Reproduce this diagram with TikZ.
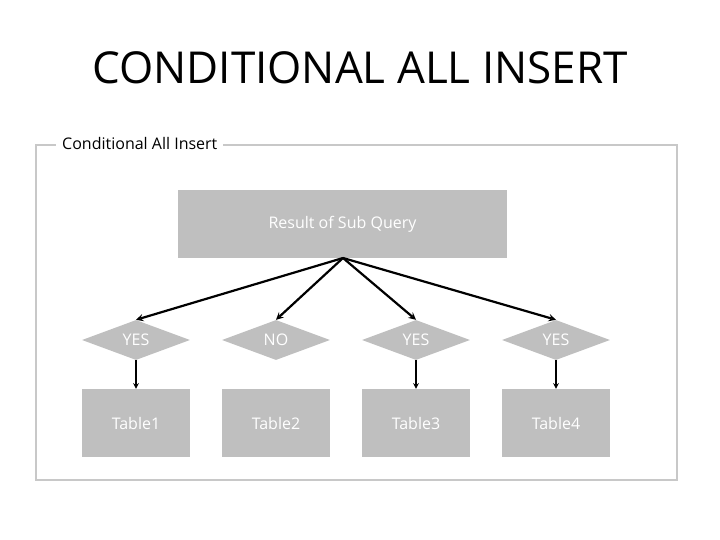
\documentclass[tikz,border=0pt]{standalone}
\usepackage{fontspec}
\setmainfont{Open Sans}
\usetikzlibrary{shapes.geometric}
\definecolor{boxgray}{RGB}{191,191,191}
\definecolor{framegray}{RGB}{200,200,200}

\begin{document}
\begin{tikzpicture}[x=1pt, y=-1pt, >=stealth,
box/.style={fill=boxgray, text=white, font=\fontsize{16}{18}\selectfont, minimum width=108pt, minimum height=68pt, inner sep=0pt},
choice/.style={diamond, fill=boxgray, text=white, font=\fontsize{16}{18}\selectfont, minimum width=108pt, minimum height=40pt, inner sep=0pt, aspect=2.7},
link/.style={->, line width=2.2pt}]
\useasboundingbox (0,0) rectangle (720,540);
\node (title) at (360,68) {\fontsize{44}{50}\selectfont CONDITIONAL ALL INSERT};
\draw [framegray, line width=2.5pt] (36,145) rectangle (677,480);
\node [fill=white, anchor=west, inner sep=6pt, font=\fontsize{16}{18}\selectfont] (legend) at (56,144) {Conditional All Insert};
\node [box, minimum width=329pt] (result) at (342.5,224) {Result of Sub Query};
\coordinate (fork) at (343,258);
% choices and tables
\foreach \i/\x/\ans in {1/136/YES, 2/276/NO, 3/416/YES, 4/556/YES} {
\node [choice] (c\i) at (\x,340) {\ans};
\node [box] (t\i) at (\x,423) {Table\i};
\draw [link] (fork) -- (c\i.north);
}
\foreach \i in {1,3,4}
\draw [link, line width=1.5pt] (c\i.south) -- (t\i.north);
\end{tikzpicture}
\end{document}
